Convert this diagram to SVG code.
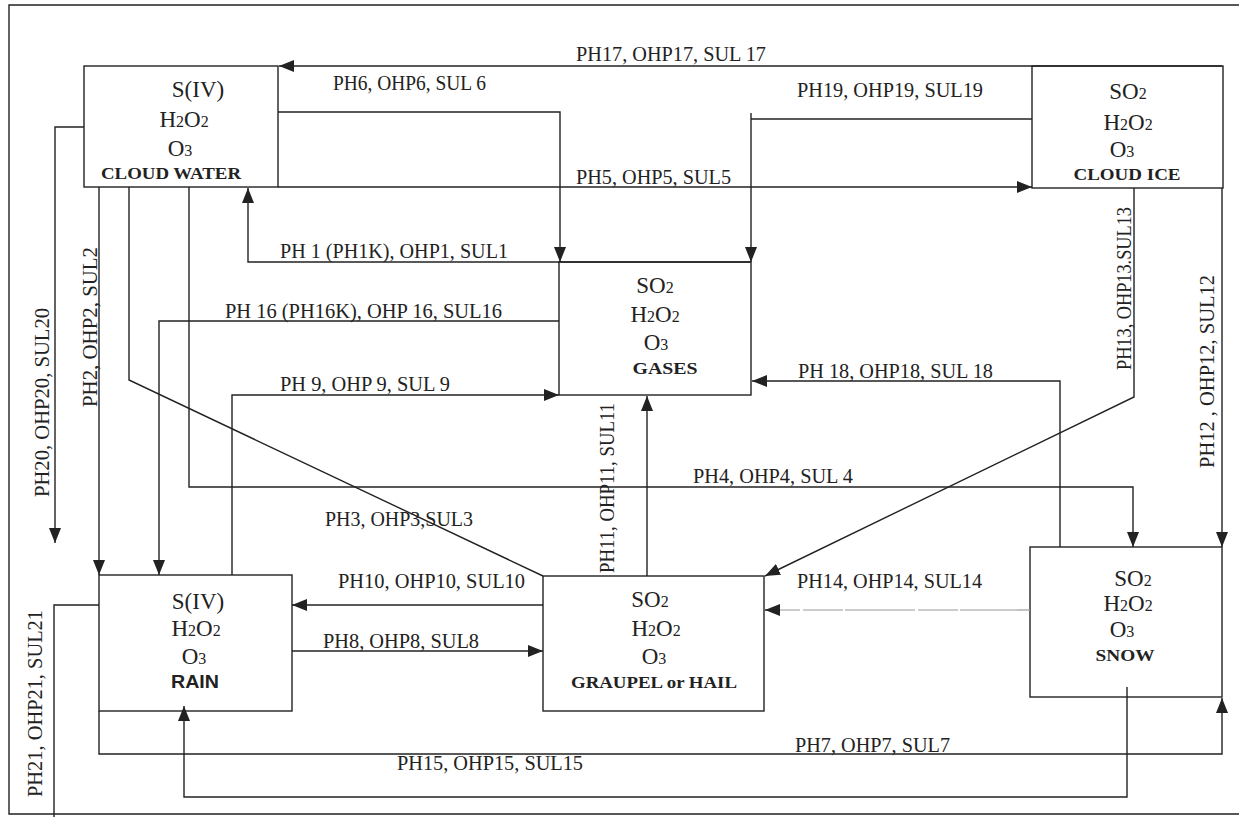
<svg xmlns="http://www.w3.org/2000/svg" width="1239" height="817" viewBox="0 0 1239 817">
<style>
.box{fill:#fff;stroke:#222;stroke-width:1.4}
.ln{fill:none;stroke:#222;stroke-width:1.4}
.dash{fill:none;stroke:#999;stroke-width:1.2;stroke-dasharray:70 2 40 3}
.lbl{font-family:"Liberation Serif",serif;font-size:20px;fill:#222}
.chem{font-family:"Liberation Serif",serif;font-size:23px;fill:#222;text-anchor:middle}
.s{font-size:16px}
.nm{font-family:"Liberation Serif",serif;font-weight:bold;font-size:17px;fill:#222;text-anchor:middle}
.nms{font-family:"Liberation Sans",sans-serif;font-weight:bold;font-size:18px;fill:#222;text-anchor:middle}
</style>
<defs>
<marker id="ah" viewBox="0 0 15 12" refX="15" refY="6" markerWidth="15" markerHeight="12" markerUnits="userSpaceOnUse" orient="auto">
<path d="M0,0 L15,6 L0,12 z" fill="#222"/>
</marker>
</defs>
<rect width="1239" height="817" fill="#fff"/>
<g id="frame">
<path class="ln" d="M1239,5 H9 V814 H1239"/>
</g>

<g id="cloud-water">
<rect class="box" x="84" y="66" width="194" height="121"/>
<text class="chem" x="198" y="97">S(IV)</text>
<text class="chem" x="184" y="127">H<tspan class="s">2</tspan>O<tspan class="s">2</tspan></text>
<text class="chem" x="180" y="156">O<tspan class="s">3</tspan></text>
<text class="nm" x="171" y="179" textLength="140" lengthAdjust="spacingAndGlyphs">CLOUD WATER</text>
</g>

<g id="cloud-ice">
<rect class="box" x="1032" y="66" width="191" height="122"/>
<text class="chem" x="1128" y="99">SO<tspan class="s">2</tspan></text>
<text class="chem" x="1128" y="130">H<tspan class="s">2</tspan>O<tspan class="s">2</tspan></text>
<text class="chem" x="1122" y="157">O<tspan class="s">3</tspan></text>
<text class="nm" x="1127" y="180" textLength="107" lengthAdjust="spacingAndGlyphs">CLOUD  ICE</text>
</g>

<g id="gases">
<rect class="box" x="559" y="262" width="192" height="133"/>
<text class="chem" x="655" y="293">SO<tspan class="s">2</tspan></text>
<text class="chem" x="655" y="322">H<tspan class="s">2</tspan>O<tspan class="s">2</tspan></text>
<text class="chem" x="656" y="350">O<tspan class="s">3</tspan></text>
<text class="nm" x="665" y="374" textLength="65" lengthAdjust="spacingAndGlyphs">GASES</text>
</g>

<g id="rain">
<rect class="box" x="99" y="575" width="193" height="136"/>
<text class="chem" x="198" y="609">S(IV)</text>
<text class="chem" x="196" y="636">H<tspan class="s">2</tspan>O<tspan class="s">2</tspan></text>
<text class="chem" x="194" y="664">O<tspan class="s">3</tspan></text>
<text class="nms" x="195" y="688" textLength="48" lengthAdjust="spacingAndGlyphs">RAIN</text>
</g>

<g id="graupel">
<rect class="box" x="543" y="576" width="221" height="135"/>
<text class="chem" x="650" y="607">SO<tspan class="s">2</tspan></text>
<text class="chem" x="656" y="636">H<tspan class="s">2</tspan>O<tspan class="s">2</tspan></text>
<text class="chem" x="654" y="664">O<tspan class="s">3</tspan></text>
<text class="nm" x="654" y="688" textLength="166" lengthAdjust="spacingAndGlyphs">GRAUPEL  or HAIL</text>
</g>

<g id="snow">
<rect class="box" x="1030" y="547" width="192" height="150"/>
<text class="chem" x="1133" y="586">SO<tspan class="s">2</tspan></text>
<text class="chem" x="1128" y="611">H<tspan class="s">2</tspan>O<tspan class="s">2</tspan></text>
<text class="chem" x="1122" y="637">O<tspan class="s">3</tspan></text>
<text class="nm" x="1125" y="661" textLength="59" lengthAdjust="spacingAndGlyphs">SNOW</text>
</g>

<g id="connectors">
<path class="ln" d="M1222,66 H279" marker-end="url(#ah)"/>
<path class="ln" d="M278,112 H560 V262" marker-end="url(#ah)"/>
<path class="ln" d="M1032,119 H751"/>
<path class="ln" d="M751,113 V262" marker-end="url(#ah)"/>
<path class="ln" d="M278,187 H1032" marker-end="url(#ah)"/>
<path class="ln" d="M751,262 H248 V188" marker-end="url(#ah)"/>
<path class="ln" d="M559,321 H159 V575" marker-end="url(#ah)"/>
<path class="ln" d="M232,575 V395 H559" marker-end="url(#ah)"/>
<path class="ln" d="M647,576 V396" marker-end="url(#ah)"/>
<path class="ln" d="M1060,547 V381 H752" marker-end="url(#ah)"/>
<path class="ln" d="M1134,188 V397 L765,576" marker-end="url(#ah)"/>
<path class="ln" d="M1222,188 V547" marker-end="url(#ah)"/>
<path class="ln" d="M189,187 V487 H1133 V547" marker-end="url(#ah)"/>
<path class="ln" d="M129,187 V380 L543,576"/>
<path class="ln" d="M99,187 V575" marker-end="url(#ah)"/>
<path class="ln" d="M84,127 H55 V543" marker-end="url(#ah)"/>
<path class="ln" d="M99,605 H54 V817"/>
<path class="ln" d="M543,605 H292" marker-end="url(#ah)"/>
<path class="ln" d="M292,651 H543" marker-end="url(#ah)"/>
<path class="dash" d="M1030,610 H780"/>
<path class="ln" d="M780,610 H765" marker-end="url(#ah)"/>
<path class="ln" d="M99,711 V754 H1222 V698" marker-end="url(#ah)"/>
<path class="ln" d="M1127,687 V797 H184 V706" marker-end="url(#ah)"/>

<text class="lbl" x="576" y="61" textLength="190" lengthAdjust="spacingAndGlyphs">PH17, OHP17, SUL 17</text>
<text class="lbl" x="333" y="90" textLength="153" lengthAdjust="spacingAndGlyphs">PH6, OHP6, SUL 6</text>
<text class="lbl" x="797" y="97" textLength="186" lengthAdjust="spacingAndGlyphs">PH19, OHP19, SUL19</text>
<text class="lbl" x="576" y="184" textLength="155" lengthAdjust="spacingAndGlyphs">PH5, OHP5, SUL5</text>
<text class="lbl" x="280" y="258" textLength="228" lengthAdjust="spacingAndGlyphs">PH 1 (PH1K), OHP1, SUL1</text>
<text class="lbl" x="225" y="318" textLength="277" lengthAdjust="spacingAndGlyphs">PH 16 (PH16K), OHP 16, SUL16</text>
<text class="lbl" x="280" y="391" textLength="170" lengthAdjust="spacingAndGlyphs">PH 9, OHP 9, SUL 9</text>
<text class="lbl" x="798" y="378" textLength="195" lengthAdjust="spacingAndGlyphs">PH 18, OHP18, SUL 18</text>
<text class="lbl" x="693" y="483" textLength="160" lengthAdjust="spacingAndGlyphs">PH4, OHP4, SUL 4</text>
<text class="lbl" x="325" y="526" textLength="148" lengthAdjust="spacingAndGlyphs">PH3, OHP3,SUL3</text>
<text class="lbl" x="338" y="588" textLength="187" lengthAdjust="spacingAndGlyphs">PH10, OHP10, SUL10</text>
<text class="lbl" x="323" y="648" textLength="156" lengthAdjust="spacingAndGlyphs">PH8, OHP8, SUL8</text>
<text class="lbl" x="797" y="588" textLength="185" lengthAdjust="spacingAndGlyphs">PH14, OHP14, SUL14</text>
<text class="lbl" x="795" y="752" textLength="155" lengthAdjust="spacingAndGlyphs">PH7, OHP7, SUL7</text>
<text class="lbl" x="397" y="770" textLength="186" lengthAdjust="spacingAndGlyphs">PH15, OHP15, SUL15</text>

<text class="lbl" x="49" y="497" transform="rotate(-90 49 497)" textLength="189" lengthAdjust="spacingAndGlyphs">PH20, OHP20, SUL20</text>
<text class="lbl" x="97" y="407" transform="rotate(-90 97 407)" textLength="160" lengthAdjust="spacingAndGlyphs">PH2, OHP2, SUL2</text>
<text class="lbl" x="42" y="797" transform="rotate(-90 42 797)" textLength="187" lengthAdjust="spacingAndGlyphs">PH21, OHP21, SUL21</text>
<text class="lbl" x="614" y="573" transform="rotate(-90 614 573)" textLength="170" lengthAdjust="spacingAndGlyphs">PH11, OHP11, SUL11</text>
<text class="lbl" x="1131" y="370" transform="rotate(-90 1131 370)" textLength="163" lengthAdjust="spacingAndGlyphs">PH13, OHP13.SUL13</text>
<text class="lbl" x="1214" y="468" transform="rotate(-90 1214 468)" textLength="193" lengthAdjust="spacingAndGlyphs">PH12 , OHP12, SUL12</text>
</g>
</svg>
